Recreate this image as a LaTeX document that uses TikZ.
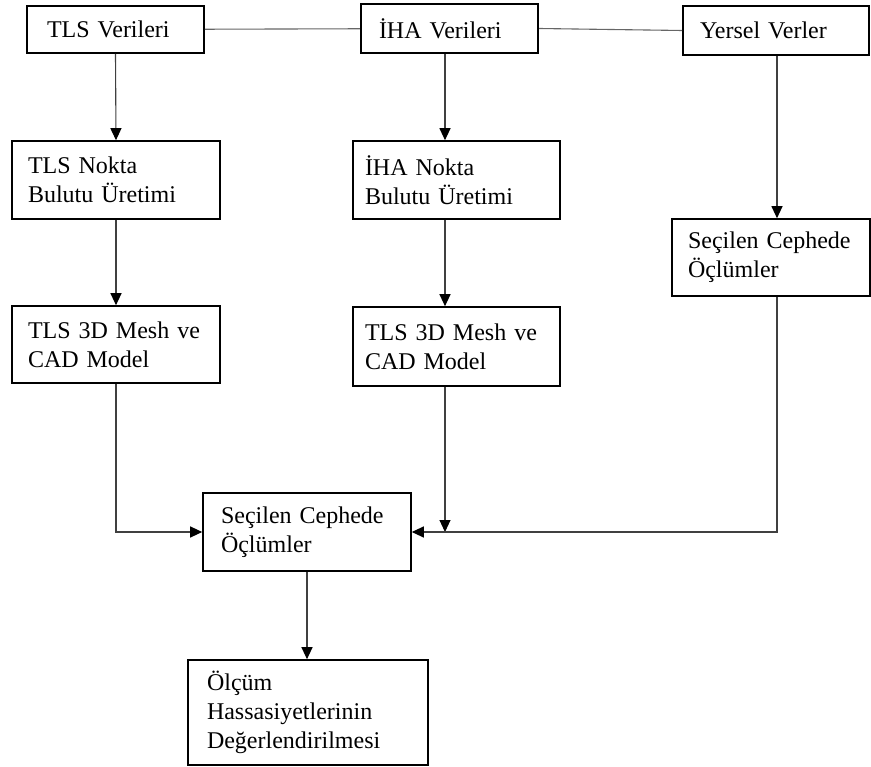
\documentclass[tikz,border=0pt]{standalone}
\usepackage{fontspec}
\setmainfont{Liberation Serif}
\usepackage{tikz}
\usetikzlibrary{arrows.meta}

\begin{document}
\begin{tikzpicture}[x=1pt, y=-1pt, >={Triangle[length=12pt,width=11pt,color=black]},
                    font=\fontsize{24pt}{29pt}\selectfont]
\tikzstyle{kutu}=[draw, line width=1.6pt, inner ysep=0pt, align=left, rectangle]
% kutu: genislik ve yukseklik her dugumde ayri
\tikzstyle{kalin}=[kutu, line width=2.2pt]
\tikzstyle{ok}=[->, line width=1.1pt, draw=black!75]
\tikzstyle{cizgi}=[line width=1.1pt, draw=black!60]

\useasboundingbox (0,0) rectangle (871,767);

\node[kutu, text width=137pt, inner xsep=20pt, minimum height=47pt] (tlsv) at (115.5,29.5) {TLS Verileri};
\node[kalin, text width=141pt, inner xsep=18pt, minimum height=49pt] (ihav) at (449.5,28.5) {İHA Verileri};
\node[kutu, text width=152pt, inner xsep=17pt, minimum height=49pt] (yer) at (776,30.5) {Yersel Verler};

\node[kutu, text width=176pt, inner xsep=16pt, minimum height=78pt] (tlsn) at (116,180) {TLS Nokta\\Bulutu Üretimi};
\node[kutu, text width=183pt, inner xsep=12pt, minimum height=78pt] (ihan) at (456.5,180) {İHA Nokta\\Bulutu Üretimi};
\node[kutu, text width=176pt, inner xsep=16pt, minimum height=77pt] (tlsm) at (116,344.5) {TLS 3D Mesh ve\\CAD Model};
\node[kutu, text width=183pt, inner xsep=12pt, minimum height=79pt] (ihm) at (456.5,346.5) {TLS 3D Mesh ve\\CAD Model};
\node[kutu, text width=166pt, inner xsep=16pt, minimum height=77pt] (secr) at (771,257.5) {Seçilen Cephede\\Öçlümler};

\node[kutu, text width=172pt, inner xsep=18pt, minimum height=78pt] (secc) at (307,532) {Seçilen Cephede\\Öçlümler};
\node[kutu, text width=202pt, inner xsep=19pt, minimum height=105pt] (olc) at (308,712.5) {Ölçüm\\Hassasiyetlerinin\\Değerlendirilmesi};

\coordinate (colb) at (445,0);
\coordinate (colc) at (777,0);

\draw[cizgi] (tlsv) -- (ihav);
\draw[cizgi] (ihav.east) -- (yer.west);

\draw[ok] (tlsv.south) -- (tlsn.north);
\draw[ok] (ihav.south -| colb) -- (ihan.north -| colb);
\draw[ok] (yer.south -| colc) -- (secr.north -| colc);
\draw[ok] (tlsn) -- (tlsm);
\draw[ok] (ihan.south -| colb) -- (ihm.north -| colb);

\draw[ok] (tlsm.south) |- (secc.west);
\draw[ok] (ihm.south -| colb) -- (colb |- secc.east);
\draw[ok] (secr.south -| colc) |- (secc.east);
\draw[ok] (secc.south) -- (secc.south |- olc.north);
\end{tikzpicture}
\end{document}
